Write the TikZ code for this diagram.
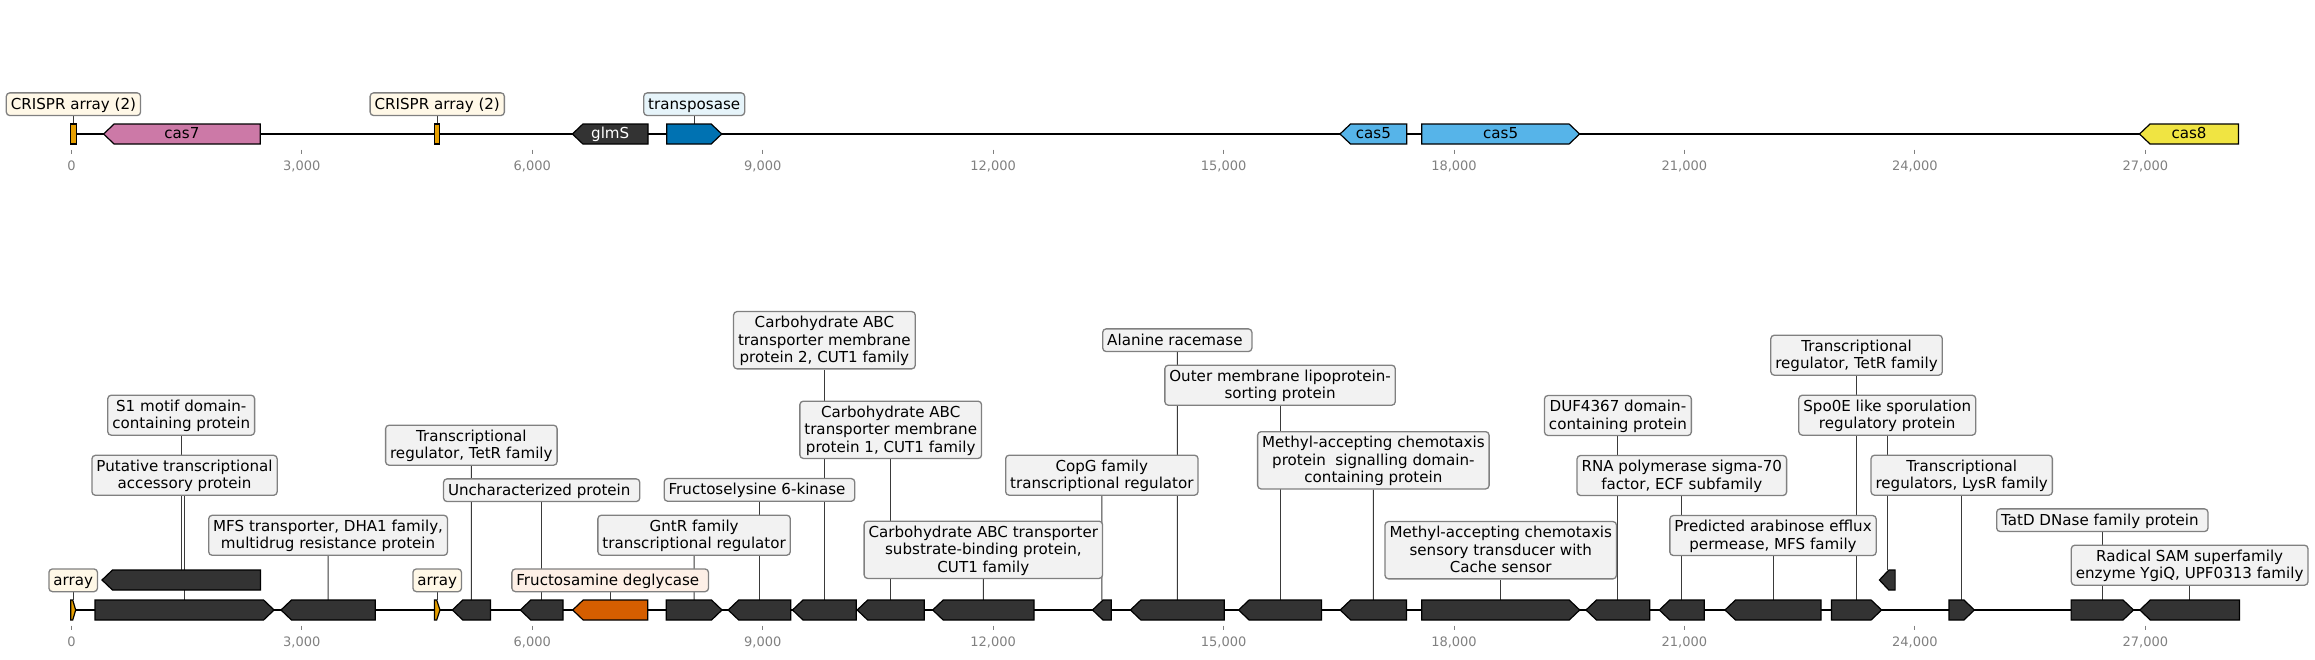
\documentclass[tikz,border=0pt]{standalone}
\usepackage{fontspec}
\setmainfont{DejaVu Sans}
\pgfdeclarelayer{bg}
\pgfsetlayers{bg,main}
\definecolor{dkgene}{HTML}{333333}
\definecolor{c7}{HTML}{CC79A7}
\definecolor{tpc}{HTML}{0072B2}
\definecolor{c5}{HTML}{56B4E9}
\definecolor{c8}{HTML}{F0E442}
\definecolor{arr}{HTML}{E69F00}
\definecolor{fru}{HTML}{D55E00}
\definecolor{labfill}{HTML}{F2F2F2}
\definecolor{labdraw}{HTML}{808080}
\definecolor{cream}{HTML}{FFF8E7}
\definecolor{peach}{HTML}{FDEFE6}
\definecolor{skyl}{HTML}{E6F4FA}
\definecolor{leadc}{HTML}{3A3A3A}
\definecolor{tickc}{HTML}{808080}
\newcommand{\lfont}{\fontsize{15.1}{17.3}\selectfont}
\newcommand{\tfont}{\fontsize{13}{15}\selectfont}
\newcommand{\st}{\rule[-3.6pt]{0pt}{17pt}}
\tikzset{
  genebox/.style={draw=black, line width=1.2pt, fill=dkgene},
  lab/.style={draw=labdraw, fill=labfill, line width=1.3pt, rounded corners=3.5pt,
    inner xsep=4.5pt, inner ysep=2.85pt, align=center, font=\lfont},
  genetext/.style={font=\lfont, inner sep=0pt},
  leader/.style={draw=leadc, line width=0.9pt},
  trackline/.style={draw=black, line width=1.7pt},
  tickmark/.style={draw=tickc, line width=0.8pt},
  ticklab/.style={text=tickc, font=\tfont, inner sep=0pt}
}
\newcommand{\geneR}[5]{%
  \pgfmathsetmacro{\gHh}{min(10.5,0.6*((#3)-(#2)))}%
  \pgfmathsetmacro{\gSh}{(#3)-\gHh}%
  \path[genebox,#5] (#2,#4-10) -- (\gSh,#4-10) -- (#3,#4) -- (\gSh,#4+10) -- (#2,#4+10) -- cycle;
  \coordinate (#1) at ({((#2)+(#3))/2},#4-10);
}
\newcommand{\geneL}[5]{%
  \pgfmathsetmacro{\gHh}{min(10.5,0.6*((#3)-(#2)))}%
  \pgfmathsetmacro{\gSh}{(#2)+\gHh}%
  \path[genebox,#5] (#3,#4-10) -- (\gSh,#4-10) -- (#2,#4) -- (\gSh,#4+10) -- (#3,#4+10) -- cycle;
  \coordinate (#1) at ({((#2)+(#3))/2},#4-10);
}
\begin{document}
\begin{tikzpicture}[x=1pt,y=-1pt]
\useasboundingbox (0,0) rectangle (2315,659);
% ---------- track ends
\coordinate (ts) at (71.4,134);
\coordinate (te) at (2238.5,134);
\coordinate (bs) at (71.4,610);
\coordinate (be) at (2239.5,610);
% ---------- ticks
\foreach \x/\v [count=\i] in {71.4/0, 301.8/{3,000}, 532.3/{6,000}, 762.7/{9,000}, 993.1/{12,000},
  1223.6/{15,000}, 1454.0/{18,000}, 1684.4/{21,000}, 1914.8/{24,000}, 2145.3/{27,000}}{
  \draw[tickmark] (\x,149.5) -- (\x,154);
  \node[ticklab] (tt\i) at (\x,166) {\v};
  \draw[tickmark] (\x,625.5) -- (\x,630);
  \node[ticklab] (tb\i) at (\x,642) {\v};
}
% ---------- top track genes
\path[genebox,fill=arr] (70.4,124) rectangle (76.5,144);
\coordinate (cr1) at (73.45,124);
\geneL{cas7}{103.6}{260.2}{134}{fill=c7}
\path[genebox,fill=arr] (434.7,124) rectangle (439.8,144);
\coordinate (cr2) at (437.25,124);
\geneL{glms}{572.4}{648}{134}{}
\geneR{tp}{666.7}{721.7}{134}{fill=tpc}
\geneL{cas5a}{1340}{1406.8}{134}{fill=c5}
\geneR{cas5b}{1421.7}{1579.6}{134}{fill=c5}
\geneL{cas8}{2139.5}{2238.5}{134}{fill=c8}
\node[genetext] (n_cas7) at (181.9,134) {\st cas7};
\node[genetext,text=white] (n_glms) at (610.2,134) {\st glmS};
\node[genetext] (n_cas5a) at (1373.4,134) {\st cas5};
\node[genetext] (n_cas5b) at (1500.65,134) {\st cas5};
\node[genetext] (n_cas8) at (2189,134) {\st cas8};
% ---------- top labels
\node[lab,fill=cream] (L_cr1) at (73.45,104.2) {\st CRISPR array (2)};
\node[lab,fill=cream] (L_cr2) at (437.25,104.2) {\st CRISPR array (2)};
\node[lab,fill=skyl] (L_tp) at (694.2,104.2) {\st transposase};
% ---------- bottom track genes
\geneR{a1}{70.7}{75.7}{610}{fill=arr}
\geneR{g_put}{95}{274.1}{610}{}
\geneL{g_s1}{102}{260.4}{580}{}
\geneL{g_mfs}{281}{375.2}{610}{}
\geneR{a2}{434.4}{440}{610}{fill=arr}
\geneL{g_tetr1}{452.3}{490.4}{610}{}
\geneL{g_unch}{520.3}{563}{610}{}
\geneL{g_fru}{572.7}{647.7}{610}{fill=fru}
\geneR{g_gntr}{666.2}{722}{610}{}
\geneL{g_frk}{728.2}{790.7}{610}{}
\geneL{g_abc2}{792.5}{856.3}{610}{}
\geneL{g_abc1}{857.2}{924.2}{610}{}
\geneL{g_abcsub}{932.7}{1034}{610}{}
\geneL{g_copg}{1092.5}{1111.2}{610}{}
\geneL{g_ala}{1130.4}{1224.2}{610}{}
\geneL{g_outer}{1238.6}{1321.5}{610}{}
\geneL{g_meth1}{1340.2}{1406.5}{610}{}
\geneR{g_meth2}{1421.8}{1579.7}{610}{}
\geneL{g_duf}{1586}{1649.8}{610}{}
\geneL{g_rna}{1659.3}{1704.3}{610}{}
\geneL{g_arab}{1725}{1821}{610}{}
\geneR{g_tetr2}{1831.5}{1881.6}{610}{}
\geneL{g_spo}{1879.4}{1895.1}{580}{}
\geneR{g_lysr}{1949}{1974.4}{610}{}
\geneR{g_tatd}{2071.1}{2133.5}{610}{}
\geneL{g_rsam}{2139.8}{2239.5}{610}{}
% ---------- bottom labels
\node[lab] (L_s1) at (181.2,415.2) {\st S1 motif domain-\\\st containing protein};
\node[lab] (L_put) at (184.55,475.3) {\st Putative transcriptional\\\st accessory protein};
\node[lab] (L_mfs) at (328.1,535.3) {\st MFS transporter, DHA1 family,\\\st multidrug resistance protein};
\node[lab,fill=cream] (L_a1) at (73.2,580.3) {\st array};
\node[lab,fill=cream] (L_a2) at (437.2,580.3) {\st array};
\node[lab] (L_tetr1) at (471.35,445.2) {\st Transcriptional\\\st regulator, TetR family};
\node[lab] (L_unch) at (541.65,490.2) {\st Uncharacterized protein\ };
\node[lab,fill=peach] (L_fru) at (610.2,580.3) {\st Fructosamine deglycase\ };
\node[lab] (L_gntr) at (694.1,535.2) {\st GntR family\\\st transcriptional regulator};
\node[lab] (L_frk) at (759.45,489.9) {\st Fructoselysine 6-kinase\ };
\node[lab] (L_abc2) at (824.4,340.2) {\st Carbohydrate ABC\\\st transporter membrane\\\st protein 2, CUT1 family};
\node[lab] (L_abc1) at (890.7,429.8) {\st Carbohydrate ABC\\\st transporter membrane\\\st protein 1, CUT1 family};
\node[lab] (L_abcsub) at (983.35,549.8) {\st Carbohydrate ABC transporter\\\st substrate-binding protein,\\\st CUT1 family};
\node[lab] (L_copg) at (1101.85,475.2) {\st CopG family\\\st transcriptional regulator};
\node[lab] (L_ala) at (1177.3,340.2) {\st Alanine racemase\ };
\node[lab] (L_outer) at (1280.05,385.2) {\st Outer membrane lipoprotein-\\\st sorting protein};
\node[lab] (L_meth1) at (1373.35,460.3) {\st Methyl-accepting chemotaxis\\\st protein\ \ signalling domain-\\\st containing protein};
\node[lab] (L_meth2) at (1500.75,550.2) {\st Methyl-accepting chemotaxis\\\st sensory transducer with\\\st Cache sensor};
\node[lab] (L_duf) at (1617.9,415.5) {\st DUF4367 domain-\\\st containing protein};
\node[lab] (L_rna) at (1681.8,475.5) {\st RNA polymerase sigma-70\\\st factor, ECF subfamily};
\node[lab] (L_arab) at (1773,535.5) {\st Predicted arabinose efflux\\\st permease, MFS family};
\node[lab] (L_tetr2) at (1856.55,355.2) {\st Transcriptional\\\st regulator, TetR family};
\node[lab] (L_spo) at (1887.25,415.2) {\st Spo0E like sporulation\\\st regulatory protein};
\node[lab] (L_lysr) at (1961.7,475.2) {\st Transcriptional\\\st regulators, LysR family};
\node[lab] (L_tatd) at (2102.3,520.2) {\st TatD DNase family protein\ };
\node[lab] (L_rsam) at (2189.65,565.2) {\st Radical SAM superfamily\\\st enzyme YgiQ, UPF0313 family};
% ---------- background: track lines and leaders
\begin{pgfonlayer}{bg}
\draw[trackline] (ts) -- (te);
\draw[trackline] (bs) -- (be);
\draw[leader] (L_cr1.south) -- (cr1);
\draw[leader] (L_cr2.south) -- (cr2);
\draw[leader] (L_tp.south) -- (tp);
\foreach \a/\b in {a1/a1, put/g_put, s1/g_s1, mfs/g_mfs, a2/a2, tetr1/g_tetr1, unch/g_unch,
  fru/g_fru, gntr/g_gntr, frk/g_frk, abc2/g_abc2, abc1/g_abc1, abcsub/g_abcsub, copg/g_copg,
  ala/g_ala, outer/g_outer, meth1/g_meth1, meth2/g_meth2, duf/g_duf, rna/g_rna, arab/g_arab,
  tetr2/g_tetr2, spo/g_spo, lysr/g_lysr, tatd/g_tatd, rsam/g_rsam}{
  \draw[leader] (L_\a.south) -- (\b);
}
\end{pgfonlayer}
\end{tikzpicture}
\end{document}
